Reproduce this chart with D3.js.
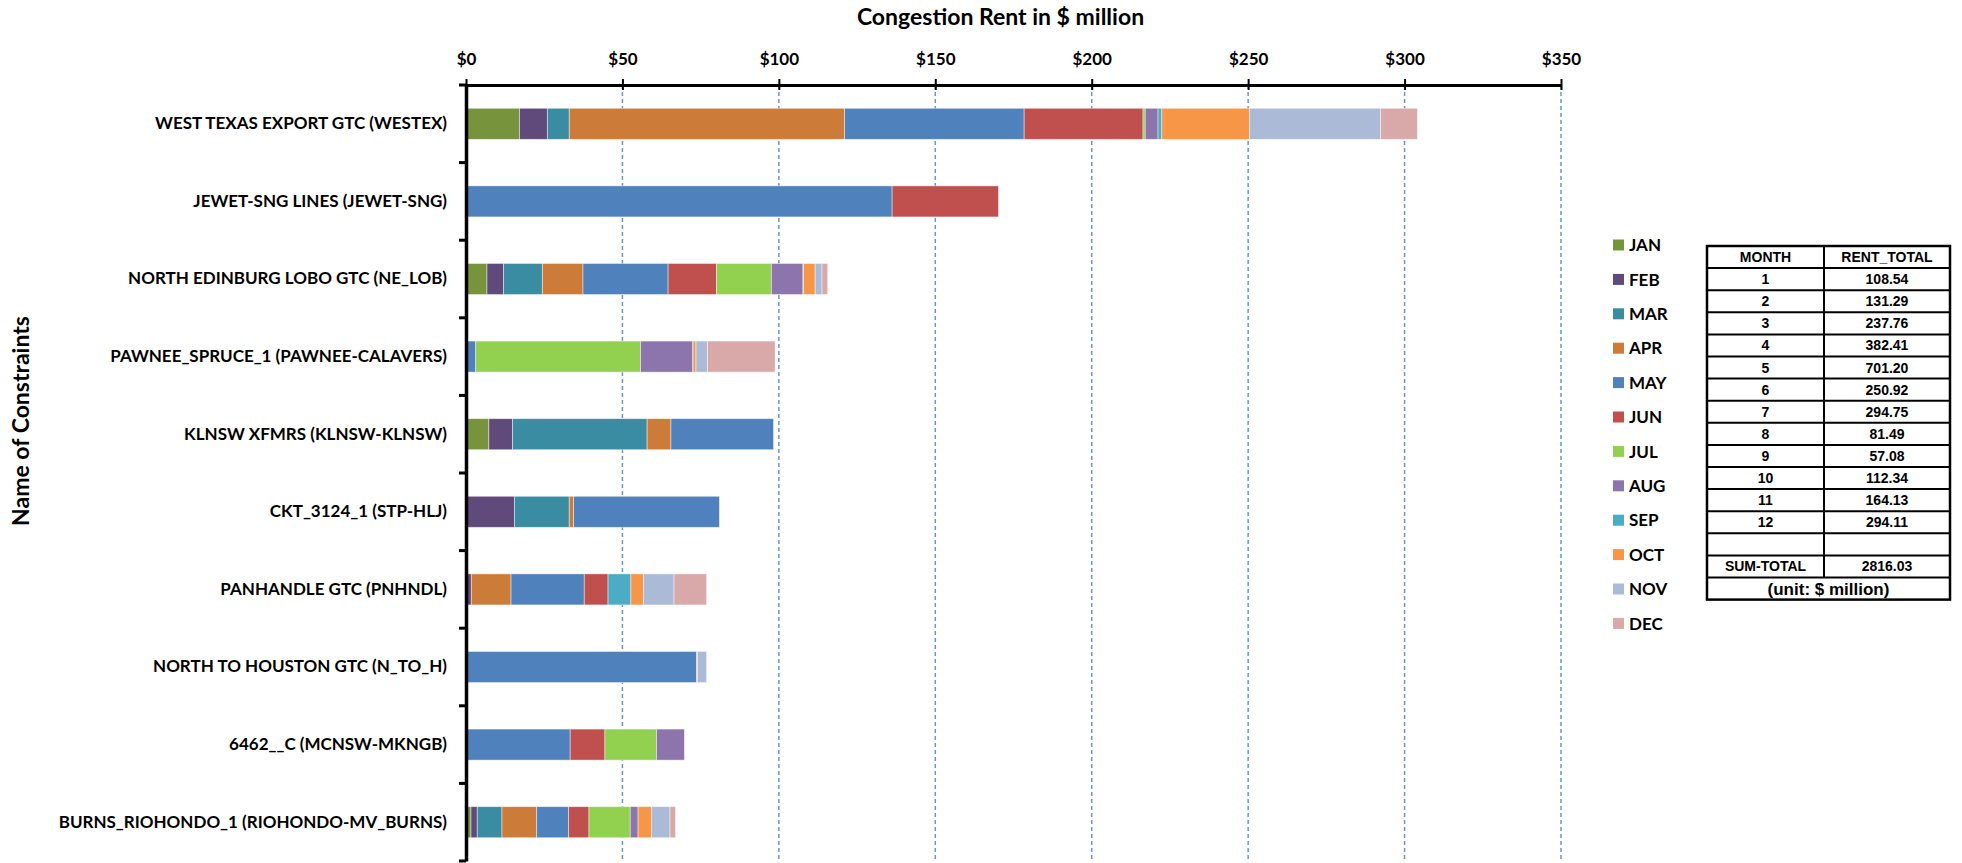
<!DOCTYPE html>
<html>
<head>
  <meta charset="utf-8">
  <title>Congestion Rent by Constraint</title>
  <style>
    body { margin: 0; background: #fff; }
    .lbl { font-family: Lato, "Open Sans", sans-serif; font-weight: bold; fill: #000; }
    .tbl { font-family: "Liberation Sans", Arial, sans-serif; font-weight: bold; fill: #000; }
  </style>
</head>
<body>
  <script src="https://d3js.org/d3.v7.min.js"></script>
  <script>
  // constraints, top to bottom
  var constraints = [
    "WEST TEXAS EXPORT GTC (WESTEX)",
    "JEWET-SNG LINES (JEWET-SNG)",
    "NORTH EDINBURG LOBO GTC (NE_LOB)",
    "PAWNEE_SPRUCE_1 (PAWNEE-CALAVERS)",
    "KLNSW XFMRS (KLNSW-KLNSW)",
    "CKT_3124_1 (STP-HLJ)",
    "PANHANDLE GTC (PNHNDL)",
    "NORTH TO HOUSTON GTC (N_TO_H)",
    "6462__C (MCNSW-MKNGB)",
    "BURNS_RIOHONDO_1 (RIOHONDO-MV_BURNS)"
  ];
  var months = ["JAN","FEB","MAR","APR","MAY","JUN","JUL","AUG","SEP","OCT","NOV","DEC"];

  // congestion rent per month, $ million, one value per constraint
  var jan = [17.1, 0,     6.7,  0,    7.3,  0,    0,    0,    0,    1.6];
  var feb = [8.9,  0,     5.3,  0,    7.6,  15.5, 1.7,  0,    0,    2.0];
  var mar = [7.0,  0,     12.4, 0,    43.0, 17.5, 0,    0,    0,    7.9];
  var apr = [88.0, 0,     13.0, 0,    7.6,  1.4,  12.7, 0,    0,    11.1];
  var may = [57.4, 136.2, 27.2, 3.1,  32.8, 46.6, 23.4, 73.7, 33.3, 10.2];
  var jun = [38.0, 34.0,  15.5, 0,    0,    0,    7.6,  0,    11.1, 6.5];
  var jul = [0.7,  0,     17.5, 52.7, 0,    0,    0,    0,    16.5, 13.2];
  var aug = [4.1,  0,     10.1, 16.7, 0,    0,    0,    0,    8.9,  2.5];
  var sep = [1.2,  0,     0.2,  0.1,  0,    0,    7.3,  0,    0,    0];
  var oct = [28.0, 0,     3.7,  0.9,  0,    0,    4.0,  0.3,  0,    4.3];
  var nov = [41.9, 0,     2.2,  3.7,  0,    0,    9.8,  2.9,  0,    5.9];
  var dec = [11.8, 0,     1.8,  21.6, 0,    0,    10.4, 0,    0,    1.8];
  var monthValues = [jan, feb, mar, apr, may, jun, jul, aug, sep, oct, nov, dec];

  var monthColors = ["#77933C","#604A7B","#3A8CA2","#CD7B38","#4F81BD","#C0504D",
                     "#92D050","#8C74AC","#4BACC6","#F79646","#ABBAD6","#D9A9AA"];

  var xTicks = [0, 50, 100, 150, 200, 250, 300, 350];

  // summary table
  var tableMonths = ["1","2","3","4","5","6","7","8","9","10","11","12"];
  var rentTotals = ["108.54","131.29","237.76","382.41","701.20","250.92",
                    "294.75","81.49","57.08","112.34","164.13","294.11"];
  var sumTotal = "2816.03";

  var margin = {top: 85, right: 401, bottom: 2, left: 466},
      width  = 1962 - margin.left - margin.right,
      height = 863 - margin.top - margin.bottom;

  var svg = d3.select("body").append("svg")
      .attr("width", 1962)
      .attr("height", 863);

  var chart = svg.append("g")
      .attr("transform", "translate(" + margin.left + "," + margin.top + ")");

  var x = d3.scaleLinear().domain([0, 350]).range([0, width]);
  var y = d3.scaleBand().domain(constraints).range([0, height])
      .paddingInner(0.6).paddingOuter(0.3);

  // rows for the stack
  var rows = constraints.map(function(c, i) {
    var r = {name: c};
    months.forEach(function(m, j) { r[m] = monthValues[j][i]; });
    return r;
  });
  var series = d3.stack().keys(months)(rows);

  // dashed gridlines
  chart.selectAll(".grid")
      .data(xTicks.slice(1))
      .enter().append("line")
      .attr("x1", function(d) { return x(d); })
      .attr("x2", function(d) { return x(d); })
      .attr("y1", 0)
      .attr("y2", height)
      .attr("stroke", "#6A95CE")
      .attr("stroke-width", 1.5)
      .attr("stroke-dasharray", "4,3");

  // bars
  chart.selectAll(".series")
      .data(series)
      .enter().append("g")
      .attr("fill", function(d, i) { return monthColors[i]; })
      .selectAll("rect")
      .data(function(d) { return d; })
      .enter().append("rect")
      .attr("x", function(d) { return x(d[0]); })
      .attr("y", function(d) { return y(d.data.name); })
      .attr("width", function(d) { return Math.max(0, x(d[1]) - x(d[0])); })
      .attr("height", y.bandwidth())
      .attr("stroke", function(d) { return d[1] - d[0] > 0 ? "rgba(255,255,255,0.55)" : "none"; })
      .attr("stroke-width", 0.8);

  // top axis
  var xAxis = chart.append("g")
      .call(d3.axisTop(x).tickValues(xTicks)
        .tickFormat(function(d) { return "$" + d; })
        .tickSizeInner(6).tickSizeOuter(0).tickPadding(14));
  xAxis.select(".domain").attr("stroke", "#000").attr("stroke-width", 3);
  xAxis.selectAll(".tick line").attr("y1", 5).attr("stroke", "#000").attr("stroke-width", 2);
  xAxis.selectAll(".tick text").attr("class", "lbl").attr("font-size", 17);

  // left axis
  var yAxis = chart.append("g")
      .call(d3.axisLeft(y).tickSize(0).tickPadding(19));
  yAxis.select(".domain").attr("stroke", "#000").attr("stroke-width", 3.5);
  yAxis.selectAll(".tick text").attr("class", "lbl").attr("font-size", 17);

  // category boundary ticks
  chart.selectAll(".ytick")
      .data(d3.range(constraints.length + 1))
      .enter().append("line")
      .attr("x1", -7).attr("x2", 0)
      .attr("y1", function(i) { return i * y.step(); })
      .attr("y2", function(i) { return i * y.step(); })
      .attr("stroke", "#000")
      .attr("stroke-width", 3);

  // titles
  svg.append("text")
      .attr("class", "lbl")
      .attr("x", margin.left + width / 2 - 13)
      .attr("y", 25)
      .attr("text-anchor", "middle")
      .attr("font-size", 23)
      .text("Congestion Rent in $ million");

  svg.append("text")
      .attr("class", "lbl")
      .attr("transform", "translate(29,421) rotate(-90)")
      .attr("text-anchor", "middle")
      .attr("font-size", 23)
      .text("Name of Constraints");

  // legend
  var legend = svg.append("g").attr("transform", "translate(1613,245)");
  var li = legend.selectAll(".li")
      .data(months)
      .enter().append("g")
      .attr("transform", function(d, i) { return "translate(0," + (i * 34.4) + ")"; });
  li.append("rect")
      .attr("x", 0).attr("y", -5.5)
      .attr("width", 11).attr("height", 11)
      .attr("fill", function(d, i) { return monthColors[i]; });
  li.append("text")
      .attr("class", "lbl")
      .attr("x", 16).attr("dy", "0.36em")
      .attr("font-size", 17)
      .text(function(d) { return d; });

  // table
  var tx0 = 1707, tx1 = 1824, tx2 = 1950, ty0 = 246, rh = 22.1;
  var tableRows = [["MONTH", "RENT_TOTAL"]]
      .concat(tableMonths.map(function(m, i) { return [m, rentTotals[i]]; }))
      .concat([["", ""], ["SUM-TOTAL", sumTotal]]);
  var nRows = tableRows.length + 1;
  var table = svg.append("g");

  table.selectAll(".hline")
      .data(d3.range(1, nRows))
      .enter().append("line")
      .attr("x1", tx0).attr("x2", tx2)
      .attr("y1", function(i) { return ty0 + i * rh; })
      .attr("y2", function(i) { return ty0 + i * rh; })
      .attr("stroke", "#000").attr("stroke-width", 2);
  table.append("line")
      .attr("x1", tx1).attr("x2", tx1)
      .attr("y1", ty0).attr("y2", ty0 + tableRows.length * rh)
      .attr("stroke", "#000").attr("stroke-width", 2);
  table.append("rect")
      .attr("x", tx0).attr("y", ty0)
      .attr("width", tx2 - tx0).attr("height", nRows * rh)
      .attr("fill", "none").attr("stroke", "#000").attr("stroke-width", 2.5);

  var tr = table.selectAll(".tr")
      .data(tableRows)
      .enter().append("g")
      .attr("transform", function(d, i) { return "translate(0," + (ty0 + (i + 0.5) * rh) + ")"; });
  tr.append("text")
      .attr("class", "tbl")
      .attr("x", (tx0 + tx1) / 2).attr("dy", "0.36em")
      .attr("text-anchor", "middle").attr("font-size", 14)
      .text(function(d) { return d[0]; });
  tr.append("text")
      .attr("class", "tbl")
      .attr("x", (tx1 + tx2) / 2).attr("dy", "0.36em")
      .attr("text-anchor", "middle").attr("font-size", 14)
      .text(function(d) { return d[1]; });
  table.append("text")
      .attr("class", "tbl")
      .attr("x", (tx0 + tx2) / 2)
      .attr("y", ty0 + (nRows - 0.5) * rh)
      .attr("dy", "0.36em")
      .attr("text-anchor", "middle").attr("font-size", 17)
      .text("(unit: $ million)");
  </script>
</body>
</html>
